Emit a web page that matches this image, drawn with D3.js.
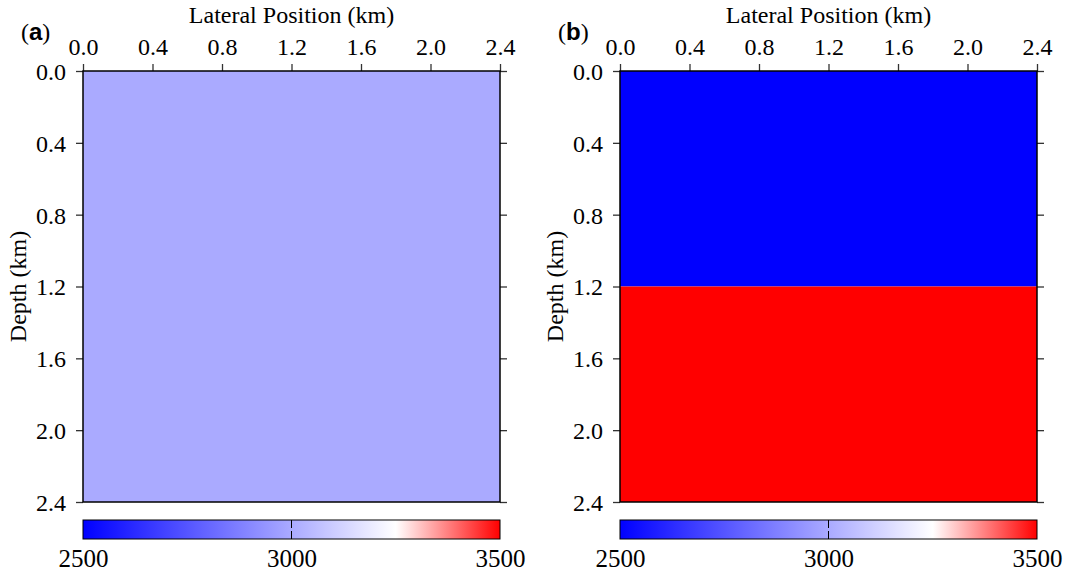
<!DOCTYPE html>
<html><head><meta charset="utf-8">
<script src="https://cdn.jsdelivr.net/npm/d3@7"></script>
<style>body{margin:0;background:#fff}svg{display:block}
svg text{font-family:"Liberation Serif","Times New Roman",Times,serif;}
svg text .bl{font-family:"Liberation Sans",Arial,sans-serif;font-weight:bold;}
</style>
</head><body>
<svg id="c" width="1065" height="573"></svg>
<script>
// Data
const panelLabels = ["a", "b"];
const lateralTicks = [0.0, 0.4, 0.8, 1.2, 1.6, 2.0, 2.4];
const depthTicks = [0.0, 0.4, 0.8, 1.2, 1.6, 2.0, 2.4];
const colorbarTicks = [2500, 3000, 3500];
// layers: [top depth, bottom depth, velocity (m/s)]
const modelA = [[0.0, 2.4, 3000]];
const modelB = [[0.0, 1.2, 2500], [1.2, 2.4, 3500]];
const models = [modelA, modelB];
const velDomain = [2500, 3250, 3500];
const velColors = ["#0000ff", "#ffffff", "#ff0000"];

const svg = d3.select("#c");
const color = d3.scaleLinear().domain(velDomain).range(velColors);
const FS = 24;

const panels = [{x0: 83, x1: 500}, {x0: 620, x1: 1037}];
const y0 = 71, y1 = 502;
const cbTop = 520, cbBot = 539;

const defs = svg.append("defs");

panels.forEach((p, i) => {
  const x = d3.scaleLinear().domain([0, 2.4]).range([p.x0, p.x1]);
  const y = d3.scaleLinear().domain([0, 2.4]).range([y0, y1]);
  const g = svg.append("g");

  g.selectAll("rect.layer").data(models[i]).enter().append("rect")
    .attr("x", x(0)).attr("width", x(2.4) - x(0))
    .attr("y", d => y(d[0])).attr("height", d => y(d[1]) - y(d[0]))
    .attr("fill", d => color(d[2]));

  // axes
  const top = d3.axisTop(x).tickValues(lateralTicks).tickFormat(d3.format(".1f")).tickSize(7).tickPadding(9);
  const left = d3.axisLeft(y).tickValues(depthTicks).tickFormat(d3.format(".1f")).tickSize(7).tickPadding(10);
  const right = d3.axisRight(y).tickValues(depthTicks).tickFormat("").tickSize(7);
  const gt = g.append("g").attr("transform", `translate(0,${y0})`).call(top);
  const gl = g.append("g").attr("transform", `translate(${p.x0},0)`).call(left);
  const gr = g.append("g").attr("transform", `translate(${p.x1},0)`).call(right);
  [gt, gl, gr].forEach(a => {
    a.attr("font-family", null).attr("font-size", null);
    a.select(".domain").remove();
    a.selectAll("line").attr("stroke", "#333").attr("stroke-width", 1.3);
    a.selectAll("text").style("font-size", FS + "px").attr("fill", "#000");
  });
  gl.selectAll("text").attr("dy", "0.35em");

  // frame
  g.append("rect").attr("x", p.x0).attr("y", y0).attr("width", p.x1 - p.x0).attr("height", y1 - y0)
    .attr("fill", "none").attr("stroke", "#000").attr("stroke-width", 1.5);

  // titles
  g.append("text").attr("x", (p.x0 + p.x1) / 2).attr("y", 23).attr("text-anchor", "middle")
    .style("font-size", FS + "px").text("Lateral Position (km)");
  g.append("text").attr("transform", `translate(${p.x0 - 57},${(y0 + y1) / 2}) rotate(-90)`)
    .attr("text-anchor", "middle").style("font-size", FS + "px").text("Depth (km)");
  const lab = g.append("text").attr("x", p.x0 - 62).attr("y", 40).style("font-size", FS + "px");
  lab.append("tspan").text("(");
  lab.append("tspan").attr("class", "bl").text(panelLabels[i]);
  lab.append("tspan").text(")");

  // colorbar
  const cx = d3.scaleLinear().domain([2500, 3500]).range([p.x0, p.x1]);
  const gid = "grad" + i;
  const grad = defs.append("linearGradient").attr("id", gid)
    .attr("gradientUnits", "userSpaceOnUse")
    .attr("x1", cx(2500)).attr("x2", cx(3500)).attr("y1", 0).attr("y2", 0);
  velDomain.forEach((v, k) => grad.append("stop").attr("offset", (v - 2500) / 1000).attr("stop-color", velColors[k]));
  g.append("rect").attr("x", cx(2500)).attr("y", cbTop).attr("width", cx(3500) - cx(2500)).attr("height", cbBot - cbTop)
    .attr("fill", `url(#${gid})`).attr("stroke", "#000").attr("stroke-width", 1);
  const cb = d3.axisBottom(cx).tickValues(colorbarTicks).tickFormat(d3.format("d")).tickSize(0).tickPadding(10);
  const gc = g.append("g").attr("transform", `translate(0,${cbBot})`).call(cb);
  gc.attr("font-family", null).attr("font-size", null);
  gc.select(".domain").remove();
  gc.selectAll("text").style("font-size", "25px").attr("fill", "#000");
  // inner ticks at top and bottom of the colorbar
  const inner = colorbarTicks.filter(v => v > 2500 && v < 3500);
  g.selectAll("line.cbt").data(inner).enter().append("line")
    .attr("x1", d => cx(d)).attr("x2", d => cx(d)).attr("y1", cbTop).attr("y2", cbTop + 8)
    .attr("stroke", "#000").attr("stroke-width", 1);
  g.selectAll("line.cbb").data(inner).enter().append("line")
    .attr("x1", d => cx(d)).attr("x2", d => cx(d)).attr("y1", cbBot - 8).attr("y2", cbBot)
    .attr("stroke", "#000").attr("stroke-width", 1);
});
</script>
</body></html>
